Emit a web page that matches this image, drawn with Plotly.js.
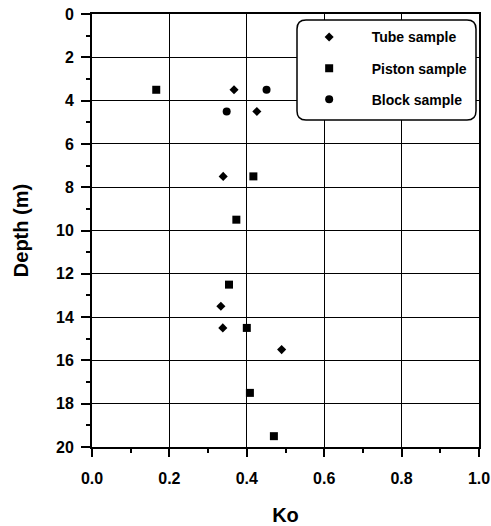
<!DOCTYPE html>
<html>
<head>
<meta charset="utf-8">
<script src="https://cdn.plot.ly/plotly-3.0.1.min.js"></script>
<style>html,body{margin:0;padding:0;background:#fff;}#chart{width:491px;height:526px;}</style>
</head>
<body>
<div id="chart"></div>
<script>
// Data
const tubeKo = [0.367, 0.426, 0.339, 0.333, 0.338, 0.490];
const tubeDepth = [3.5, 4.5, 7.5, 13.5, 14.5, 15.5];
const pistonKo = [0.166, 0.417, 0.373, 0.354, 0.400, 0.408, 0.470];
const pistonDepth = [3.5, 7.5, 9.5, 12.5, 14.5, 17.5, 19.5];
const blockKo = [0.451, 0.348];
const blockDepth = [3.5, 4.5];
const seriesNames = ['Tube sample', 'Piston sample', 'Block sample'];
const xTitle = 'Ko';
const yTitle = 'Depth (m)';

const FONT = '"Liberation Sans", Arial, sans-serif';

const traces = [
  {x: tubeKo, y: tubeDepth, name: seriesNames[0], legendgroup: 'a', mode: 'markers', type: 'scatter',
   marker: {symbol: 'diamond', size: 7, color: '#000'}},
  {x: pistonKo, y: pistonDepth, name: seriesNames[1], legendgroup: 'b', mode: 'markers', type: 'scatter',
   marker: {symbol: 'square', size: 8, color: '#000'}},
  {x: blockKo, y: blockDepth, name: seriesNames[2], legendgroup: 'c', mode: 'markers', type: 'scatter',
   marker: {symbol: 'circle', size: 8, color: '#000'}}
];

// rounded legend box (paper coordinates)
const L = 92, R = 479, T = 14, B = 447;
function px(xp){ return (xp - L) / (R - L); }
function py(yp){ return (B - yp) / (B - T); }
function roundRect(x0, y0, x1, y1, r){
  const p = [];
  p.push('M', px(x0 + r), py(y0));
  p.push('L', px(x1 - r), py(y0));
  p.push('Q', px(x1), py(y0), px(x1), py(y0 + r));
  p.push('L', px(x1), py(y1 - r));
  p.push('Q', px(x1), py(y1), px(x1 - r), py(y1));
  p.push('L', px(x0 + r), py(y1));
  p.push('Q', px(x0), py(y1), px(x0), py(y1 - r));
  p.push('L', px(x0), py(y0 + r));
  p.push('Q', px(x0), py(y0), px(x0 + r), py(y0));
  p.push('Z');
  return p.join(' ');
}

const tickFont = {family: FONT, size: 16, color: '#000', weight: 700};

const layout = {
  width: 491, height: 526,
  margin: {l: 92, r: 12, t: 14, b: 79},
  paper_bgcolor: '#fff', plot_bgcolor: '#fff',
  showlegend: true,
  legend: {
    x: 0.503, y: 0.983, xanchor: 'left', yanchor: 'top',
    bgcolor: 'rgba(0,0,0,0)', borderwidth: 0,
    tracegroupgap: 10,
    itemwidth: 75,
    font: {family: FONT, size: 14, color: '#000', weight: 700}
  },
  xaxis: {
    range: [0, 1], dtick: 0.2, tick0: 0, tickformat: '.1f',
    showgrid: true, gridcolor: '#000', gridwidth: 1,
    zeroline: false,
    showline: true, linecolor: '#000', linewidth: 2, mirror: true,
    ticks: 'outside', ticklen: 8, tickwidth: 2, tickcolor: '#000',
    ticklabelstandoff: 8,
    minor: {dtick: 0.1, ticks: 'outside', ticklen: 4, tickwidth: 2, tickcolor: '#000', showgrid: false},
    tickfont: tickFont,
    title: {text: xTitle, font: {family: FONT, size: 20, color: '#000', weight: 700}, standoff: 22}
  },
  yaxis: {
    range: [20, 0], dtick: 2, tick0: 0,
    showgrid: true, gridcolor: '#000', gridwidth: 1,
    zeroline: false,
    showline: true, linecolor: '#000', linewidth: 2, mirror: true,
    ticks: 'outside', ticklen: 9, tickwidth: 2, tickcolor: '#000',
    ticklabelstandoff: 4,
    minor: {dtick: 1, ticks: 'outside', ticklen: 4, tickwidth: 2, tickcolor: '#000', showgrid: false},
    tickfont: tickFont,
    title: {text: yTitle, font: {family: FONT, size: 20, color: '#000', weight: 700}, standoff: 22}
  },
  shapes: [{
    type: 'path', xref: 'paper', yref: 'paper', layer: 'above',
    path: roundRect(297, 20, 476, 120, 9),
    fillcolor: '#fff', line: {color: '#000', width: 1.5}
  }]
};

Plotly.newPlot('chart', traces, layout, {staticPlot: true, displayModeBar: false});
</script>
</body>
</html>
